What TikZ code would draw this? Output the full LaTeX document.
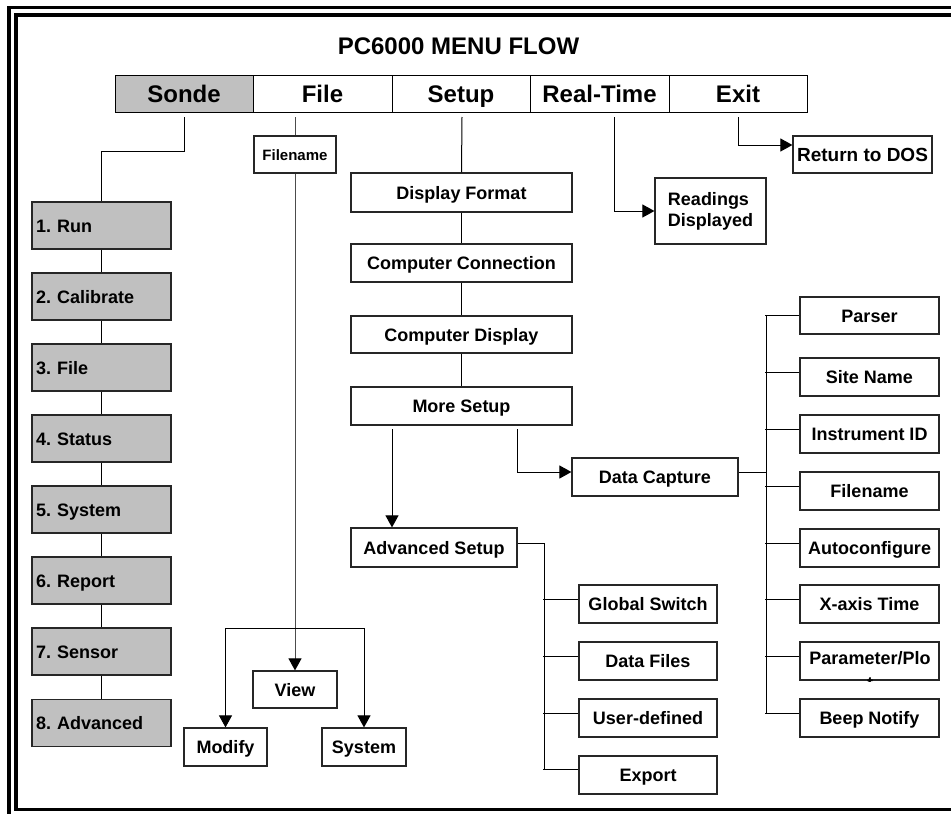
\documentclass[tikz,border=0pt]{standalone}
\usepackage{fontspec}
\setmainfont{Liberation Sans}
\usetikzlibrary{arrows.meta,calc}
\definecolor{grayfill}{HTML}{C0C0C0}
\frenchspacing
\begin{document}
\begin{tikzpicture}[x=1pt,y=-1pt,
  conn/.style={line width=1pt, draw=black},
  arr/.style={conn, -{Triangle[length=12pt,width=13pt,color=black]}},
  box/.style={draw=black!85, line width=1.2pt, fill=white, inner sep=0pt,
    font=\fontsize{18}{21}\selectfont\bfseries\frenchspacing, text height=13pt, text depth=0pt,
    minimum height=38pt},
  graybox/.style={box, fill=grayfill, align=left, text width=131pt, inner xsep=4pt,
    minimum width=139pt, minimum height=47pt},
  menu/.style={draw=black, line width=1pt, inner sep=0pt,
    font=\fontsize{24}{28}\selectfont\bfseries, text height=17pt, text depth=0pt,
    minimum height=37pt},
  frameline/.style={line width=3.8pt, draw=black}
]
\useasboundingbox (0,0) rectangle (951,814);
\clip (0,0) rectangle (951,814);
\fill[white] (0,0) rectangle (951,814);

% frame
\draw[frameline] (9,820) -- (9,7.5) -- (960,7.5);
\draw[frameline] (960,809.5) -- (15.6,809.5) -- (15.6,15) -- (960,15);

% title
\node[font=\fontsize{24}{28}\selectfont\bfseries] (title) at (458.5,46) {PC6000 MENU FLOW};

% menu bar
\node[menu, fill=grayfill, minimum width=138pt] (sonde) at (184,93.5) {Sonde};
\node[menu, minimum width=139pt] (file) at (322.5,93.5) {File};
\node[menu, minimum width=138pt] (setup) at (461,93.5) {Setup};
\node[menu, minimum width=139pt] (rt) at (599.5,93.5) {Real-Time};
\node[menu, minimum width=138pt] (exit) at (738,93.5) {Exit};

% Sonde column
\node[graybox] (s1) at (101.5,225.5) {1. Run};
\node[graybox] (s2) at (101.5,296.5) {2. Calibrate};
\node[graybox] (s3) at (101.5,367.5) {3. File};
\node[graybox] (s4) at (101.5,438.5) {4. Status};
\node[graybox] (s5) at (101.5,509.5) {5. System};
\node[graybox] (s6) at (101.5,580.5) {6. Report};
\node[graybox] (s7) at (101.5,651.5) {7. Sensor};
\node[graybox] (s8) at (101.5,723) {8. Advanced};

\coordinate (s0) at (184,117);
\draw[conn] (s0) -- ++(0,34) -| (s1.north);
\foreach \a/\b in {s1/s2,s2/s3,s3/s4,s4/s5,s5/s6,s6/s7,s7/s8}
  \draw[conn] (\a.south) -- (\b.north);

% File column
\node[box, minimum width=82pt, minimum height=37pt, font=\fontsize{15}{18}\selectfont\bfseries, text height=11pt] (fname) at (295,154.5) {Filename};
\node[box, minimum width=84pt, minimum height=37pt] (view) at (295,689.5) {View};
\node[box, minimum width=83pt] (modify) at (225.5,747) {Modify};
\node[box, minimum width=84pt] (fsys) at (364,747) {System};

\coordinate (f0) at (295,117);
\coordinate (fbar) at (295,628);
\draw[conn, draw=black!70] (f0) -- (fname.north);
\draw[arr, draw=black!70] (fname.south) -- (view.north);
\draw[arr] (fbar) -| (modify.north);
\draw[arr] (fbar) -| (fsys.north);

% Setup column
\node[box, minimum width=221pt, minimum height=39pt] (dfmt) at (461.5,192.5) {Display Format};
\node[box, minimum width=221pt] (cconn) at (461.5,263) {Computer Connection};
\node[box, minimum width=221pt, minimum height=37pt] (cdisp) at (461.5,334.5) {Computer Display};
\node[box, minimum width=221pt] (more) at (461.5,406) {More Setup};
\node[box, minimum width=166pt, minimum height=39pt] (adv) at (434,547.5) {Advanced Setup};
\node[box, minimum width=166pt] (dc) at (655,477) {Data Capture};

\coordinate (u0) at (462,117);
\draw[conn] (u0) -- (dfmt.north);
\draw[conn] (dfmt.south) -- (cconn.north);
\draw[conn] (cconn.south) -- (cdisp.north);
\draw[conn] (cdisp.south) -- (more.north);
\coordinate (m1) at (392,429);
\coordinate (m2) at (517,429);
\draw[arr] (m1) -- (adv.north -| m1);
\draw[arr] (m2) |- ([yshift=5pt]dc.west);

% Real-Time and Exit
\node[box, minimum width=111pt, minimum height=66pt, align=left, text height=, text depth=] (read) at (710.5,211) {Readings\\Displayed};
\node[box, minimum width=139pt, minimum height=37pt, font=\fontsize{19}{22}\selectfont\bfseries] (dos) at (862.5,154.5) {Return to DOS};
\coordinate (r0) at (614,117);
\coordinate (e0) at (738,117);
\draw[arr] (r0) |- (read.west);
\draw[arr] (e0) |- ([yshift=9.5pt]dos.west);

% Advanced Setup children
\node[box, minimum width=138pt] (gs) at (648,604) {Global Switch};
\node[box, minimum width=138pt] (dfiles) at (648,661) {Data Files};
\node[box, minimum width=138pt] (ud) at (648,718) {User-defined};
\node[box, minimum width=138pt] (exp) at (648,775) {Export};
\coordinate (ab) at (544,543);
\draw[conn] ([yshift=4.5pt]adv.east) -- (ab) -- (544,769);
\foreach \n in {gs,dfiles,ud}
  \draw[conn] ([yshift=5pt]\n.west) -- ++(-35,0);
\draw[conn] ([yshift=6pt]exp.west) -- ++(-35,0);

% Data Capture children
\node[box, minimum width=139pt, minimum height=37pt] (parser) at (869.5,315.5) {Parser};
\node[box, minimum width=139pt] (site) at (869.5,377) {Site Name};
\node[box, minimum width=139pt] (inst) at (869.5,434) {Instrument ID};
\node[box, minimum width=139pt] (dfn) at (869.5,491) {Filename};
\node[box, minimum width=139pt] (auto) at (869.5,548) {Autoconfigure};
\node[box, minimum width=139pt] (xaxis) at (869.5,604) {X-axis Time};
\node[box, minimum width=139pt] (param) at (869.5,661) {};
\node[font=\fontsize{18}{21}\selectfont\bfseries, anchor=base, inner sep=0pt] (paramtxt) at (870,664.5) {Parameter/Plo};
\begin{scope}
  \clip ([xshift=1pt,yshift=1pt]param.north west) rectangle ([xshift=-1pt,yshift=-1pt]param.south east);
  \node[font=\fontsize{18}{21}\selectfont\bfseries, anchor=base, inner sep=0pt] (paramt) at (870,689) {t};
\end{scope}
\node[box, minimum width=139pt] (beep) at (869.5,718) {Beep Notify};

\coordinate (db) at (766,472);
\draw[conn] ([yshift=5pt]dc.east) -- (db);
\draw[conn] (766,315) -- (766,713);
\draw[conn] (parser.west) -- ++(-34,0);
\foreach \n in {site,inst,dfn,auto,xaxis,param,beep}
  \draw[conn] ([yshift=5pt]\n.west) -- ++(-34,0);
\end{tikzpicture}
\end{document}
